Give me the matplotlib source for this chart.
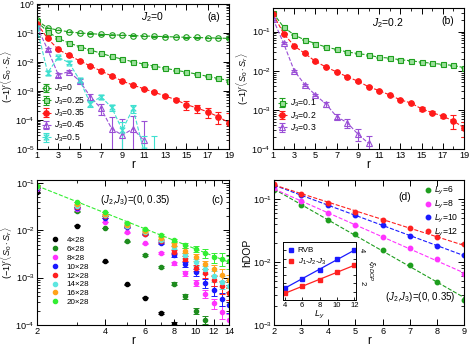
import numpy as np
import matplotlib
matplotlib.use("Agg")
import matplotlib.pyplot as plt
from matplotlib.path import Path
from matplotlib.ticker import FixedLocator, NullFormatter, LogLocator, FuncFormatter, FixedFormatter

plt.rcParams['font.family'] = ['Liberation Sans', 'DejaVu Sans']
plt.rcParams['mathtext.fontset'] = 'custom'
plt.rcParams['mathtext.rm'] = 'Liberation Sans'
plt.rcParams['mathtext.it'] = 'Liberation Sans:italic'

# ---------------- Panel (a): J2 = 0 ----------------
r_a = list(range(1, 20))
a_J3_0 = [0.27, 0.15, 0.125, 0.11, 0.10, 0.095, 0.09, 0.087, 0.084, 0.081, 0.079,
          0.077, 0.075, 0.073, 0.071, 0.07, 0.068, 0.067, 0.065]
a_J3_025 = [0.25, 0.11, 0.065, 0.045, 0.034, 0.026, 0.02, 0.0155, 0.0125, 0.0102,
            0.0085, 0.0072, 0.0061, 0.0052, 0.0045, 0.0038, 0.0032, 0.0027, 0.0023]
a_J3_035 = [0.21, 0.065, 0.027, 0.017, 0.011, 0.0073, 0.0049, 0.0033, 0.0022, 0.0016,
            0.0012, 0.0009, 0.00068, 0.0005, 0.00034, 0.00026, 0.00019, 0.00013, 0.00008]
a_J3_035_err = [0.01, 0.003, 0.001, 0.0006, 0.0004, 0.0003, 0.0002, 0.00015, 0.0001, 0.00008,
                0.00007, 0.00006, 0.00006, 0.00006, 0.00012, 0.00008, 0.00007, 0.00006, 0.00009]
r_a45 = list(range(1, 12))
a_J3_045 = [0.165, 0.027, 0.0036, 0.0047, 0.0022, 0.00064, 0.00025, 0.00005, 0.00003, 0.00005, 0.00002]
a_J3_045_err = [0.01, 0.003, 0.0005, 0.0006, 0.0003, 0.00015, 0.0001, 0.00008, 0.00008, 0.00009, 0.00007]
r_a5 = list(range(1, 13))
a_J3_05 = [0.145, 0.0043, 0.0145, 0.0095, 0.0024, 0.00037, 0.00064, 0.00027, 0.000045,
           0.00025, 0.000009, 0.000008]
a_J3_05_err = [0.008, 0.0006, 0.002, 0.0012, 0.0004, 0.00008, 0.0001, 0.00007, 0.00004,
               0.00007, 0.00002, 0.00002]

# ---------------- Panel (b): J2 = 0.2 ----------------
r_b = list(range(1, 20))
b_J3_01 = [0.30, 0.13, 0.082, 0.061, 0.0495, 0.040, 0.035, 0.030, 0.0276, 0.025, 0.022,
           0.021, 0.019, 0.018, 0.0165, 0.0155, 0.0145, 0.0136, 0.012]
b_J3_02 = [0.28, 0.089, 0.043, 0.0276, 0.0173, 0.0124, 0.0093, 0.007, 0.0054, 0.0039,
           0.0031, 0.0024, 0.0018, 0.0015, 0.00106, 0.00085, 0.00069, 0.00052, 0.00035]
b_J3_02_err = [0.01, 0.003, 0.001, 0.0008, 0.0005, 0.0003, 0.0002, 0.00015, 0.0001, 0.00008,
               0.00006, 0.00005, 0.00004, 0.00004, 0.0001, 0.00008, 0.00007, 0.0002, 0.00015]
r_b3 = list(range(1, 11))
b_J3_03 = [0.21, 0.05, 0.01, 0.0044, 0.0024, 0.0014, 0.00067, 0.00047, 0.00024, 0.00014]
b_J3_03_err = [0.008, 0.003, 0.0006, 0.0003, 0.0002, 0.0002, 0.0001, 0.00013, 0.00008, 0.00007]

# ---------------- Panel (c): (J2,J3)=(0,0.35), cylinders ----------------
r_c = list(range(2, 15))
c_labels = ['4×28', '6×28', '8×28', '10×28', '12×28', '14×28', '16×28', '20×28']
c_4 = [0.063, 0.0125, 0.0022, 0.00072, 0.00038, 0.00018, 0.000105]
c_6 = [0.083, 0.025, 0.011, 0.0059, 0.0030, 0.0017, 0.00075, 0.00041, 0.0002, 0.00013]
c_8 = [0.076, 0.028, 0.015, 0.009, 0.0053, 0.0033, 0.002, 0.00125, 0.00077, 0.00046,
       0.00029, 0.00019, 0.00013]
c_10 = [0.078, 0.030, 0.018, 0.0115, 0.0082, 0.0053, 0.003, 0.0019, 0.0013, 0.00077,
        0.00054, 0.00036, 0.00026]
c_12 = [0.080, 0.031, 0.020, 0.0122, 0.0085, 0.0058, 0.0035, 0.0025, 0.0016, 0.00125,
        0.00088, 0.00066, 0.00048]
c_14 = [0.083, 0.033, 0.021, 0.0125, 0.0092, 0.0063, 0.0044, 0.0030, 0.0021, 0.0015,
        0.0011, 0.00082, 0.00068]
c_16 = [0.085, 0.035, 0.022, 0.013, 0.0095, 0.0068, 0.0050, 0.0037, 0.0027, 0.0019,
        0.0015, 0.00115, 0.00088]
c_20 = [0.088, 0.039, 0.0245, 0.0145, 0.0105, 0.0078, 0.0062, 0.0048, 0.0041, 0.0033,
        0.0027, 0.0025, 0.0022]
c_rel_err = [0.01, 0.01, 0.01, 0.02, 0.03, 0.05, 0.08, 0.12, 0.15, 0.2, 0.25, 0.3, 0.3]

# ---------------- Panel (d): hDOP ----------------
r_d = list(range(2, 10))
d_labels = ['$L_y$=6', '$L_y$=8', '$L_y$=10', '$L_y$=12']
d_6 = [0.138, 0.079, 0.047, 0.0275, 0.0155, 0.0089, 0.0049, 0.0025]
d_8 = [0.147, 0.092, 0.059, 0.038, 0.025, 0.0165, 0.011, 0.0064]
d_10 = [0.167, 0.115, 0.079, 0.055, 0.038, 0.026, 0.018, 0.0129]
d_12 = [0.173, 0.122, 0.087, 0.063, 0.047, 0.034, 0.025, 0.019]
# inset: correlation length vs Ly
Ly = [4, 6, 8, 10, 12]
xi_RVB = [1.72, 2.28, 2.83, 3.45, 4.0]
xi_J = [1.41, 1.82, 2.22, 2.69, 3.09]

GREEN = '#1fa01f'
RED = '#ff1a1a'
PURPLE = '#9a4fd6'
CYAN = '#3fe0d0'

hour = Path([(-1, 1), (1, 1), (-1, -1), (1, -1), (-1, 1)],
            [Path.MOVETO, Path.LINETO, Path.LINETO, Path.LINETO, Path.CLOSEPOLY])

W, H = 471, 347
fig = plt.figure(figsize=(W / 100, H / 100), dpi=100)

def box(l, t, r, b):
    return [l / W, 1 - b / H, (r - l) / W, (b - t) / H]

ax_a = fig.add_axes(box(37, 4, 229, 149))
ax_b = fig.add_axes(box(273, 8, 464, 149))
ax_c = fig.add_axes(box(37, 180, 229, 325))
ax_d = fig.add_axes(box(274, 180, 464, 325))
ax_in = fig.add_axes(box(283, 242, 356, 300))

FS = 6.6
ylab = r'$(-1)^r\langle S_0\cdot S_r\rangle$'

def logfmt(v, pos):
    e = int(round(np.log10(v)))
    return r'$10^{%d}$' % e

def style(ax, logy=True):
    ax.tick_params(which='both', direction='in', top=True, right=True, labelsize=FS, pad=1.5)
    ax.tick_params(which='major', length=4, width=0.7)
    ax.tick_params(which='minor', length=2, width=0.6)
    if logy:
        ax.yaxis.set_major_formatter(FuncFormatter(logfmt))
        ax.yaxis.set_minor_locator(LogLocator(base=10, subs=np.arange(2, 10), numticks=10))
        ax.yaxis.set_minor_formatter(NullFormatter())
    for s in ax.spines.values():
        s.set_linewidth(0.8)

def labels(ax, yl, px_right, fs=6.6):
    # px_right: distance in pixels from the axes' left edge to the right edge of the y label
    ax.set_xlabel('r', fontsize=8.5, labelpad=-1)
    ax.set_ylabel(yl, fontsize=fs)
    w = ax.get_position().width * W
    ax.yaxis.set_label_coords(-(px_right) / w, 0.5)

def eb(ax, x, y, err, color, marker, mfc, label, ms=4, ls='--'):
    y = np.asarray(y, float)
    e = np.asarray(err, float)
    lo = np.minimum(e, y * 0.999)
    return ax.errorbar(x, y, yerr=[lo, e], color=color, marker=marker, mfc=mfc, mec=color,
                       ms=ms, ls=ls, lw=0.8, elinewidth=0.8, capsize=2.5, capthick=0.8,
                       mew=0.8, label=label)

# ---- (a)
eb(ax_a, r_a, a_J3_0, [v * 0.02 for v in a_J3_0], GREEN, 'o', 'none', r'$J_3$=0')
eb(ax_a, r_a, a_J3_025, [v * 0.04 for v in a_J3_025], GREEN, 's', '#9be09b', r'$J_3$=0.25', ms=3.6)
eb(ax_a, r_a, a_J3_035, a_J3_035_err, RED, 'o', RED, r'$J_3$=0.35')
eb(ax_a, r_a45, a_J3_045, a_J3_045_err, PURPLE, '^', 'none', r'$J_3$=0.45')
eb(ax_a, r_a5, a_J3_05, a_J3_05_err, CYAN, hour, 'none', r'$J_3$=0.5', ms=3.6)
ax_a.set_yscale('log')
ax_a.set_xlim(1, 19)
ax_a.set_ylim(1e-5, 1)
ax_a.set_xticks(range(1, 20, 2))
ax_a.set_xticks(range(2, 19, 2), minor=True)
ax_a.yaxis.set_major_locator(LogLocator(base=10, numticks=10))
style(ax_a)
labels(ax_a, ylab, 22)
ax_a.text(0.60, 0.91, r'$J_2$=0', transform=ax_a.transAxes, fontsize=7.5, ha='center', va='center')
ax_a.text(0.92, 0.91, '(a)', transform=ax_a.transAxes, fontsize=7.5, ha='center', va='center')
ax_a.legend(loc='lower left', fontsize=6.2, frameon=False, handlelength=1.0, handletextpad=0.4,
            labelspacing=0.1, borderaxespad=0.2, bbox_to_anchor=(0.0, 0.0))

# ---- (b)
eb(ax_b, r_b, b_J3_01, [v * 0.03 for v in b_J3_01], GREEN, 's', '#9be09b', r'$J_3$=0.1', ms=3.6)
eb(ax_b, r_b, b_J3_02, b_J3_02_err, RED, 'o', RED, r'$J_3$=0.2')
eb(ax_b, r_b3, b_J3_03, b_J3_03_err, PURPLE, '^', 'none', r'$J_3$=0.3')
ax_b.set_yscale('log')
ax_b.set_xlim(1, 19)
ax_b.set_ylim(1e-4, 0.4)
ax_b.set_xticks(range(1, 20, 2))
ax_b.set_xticks(range(2, 19, 2), minor=True)
style(ax_b)
labels(ax_b, ylab, 22)
ax_b.text(0.60, 0.89, r'$J_2$=0.2', transform=ax_b.transAxes, fontsize=7.5, ha='center', va='center')
ax_b.text(0.915, 0.91, '(b)', transform=ax_b.transAxes, fontsize=7.5, ha='center', va='center')
ax_b.legend(loc='lower left', fontsize=6.2, frameon=False, handlelength=1.0, handletextpad=0.4,
            labelspacing=0.1, borderaxespad=0.2, bbox_to_anchor=(0.0, 0.07))

# ---- (c)
c_series = [c_4, c_6, c_8, c_10, c_12, c_14, c_16, c_20]
c_colors = ['black', '#1e8c1e', '#ff33ff', '#1a1aff', '#ff2020', '#5ee6e0', '#ffa31a', '#33ee33']
for vals, col, lab in zip(c_series, c_colors, c_labels):
    x = r_c[:len(vals)]
    v = np.asarray(vals)
    e = v * np.asarray(c_rel_err[:len(vals)])
    ax_c.errorbar(x, v, yerr=e, color=col, marker='o', ms=3, ls='none', elinewidth=0.7,
                  capsize=2, capthick=0.7, label=lab)
p = np.polyfit(np.log(r_c), np.log(c_20), 1)
xf = np.array([r_c[0], r_c[-1]], float)
ax_c.plot(xf, np.exp(np.polyval(p, np.log(xf))), '--', color='#33ee33', lw=0.8)
ax_c.set_xscale('log')
ax_c.set_yscale('log')
ax_c.set_xlim(2, 14)
ax_c.set_ylim(1e-4, 0.115)
ax_c.xaxis.set_major_locator(FixedLocator([2, 4, 6, 8, 10, 12, 14]))
ax_c.xaxis.set_minor_locator(FixedLocator([3, 5, 7, 9, 11, 13]))
ax_c.xaxis.set_major_formatter(FixedFormatter(['2', '4', '6', '8', '10', '12', '14']))
ax_c.xaxis.set_minor_formatter(NullFormatter())
style(ax_c)
labels(ax_c, ylab, 22)
ax_c.text(0.51, 0.86, r'$(J_2$,$J_3)$=(0, 0.35)', transform=ax_c.transAxes, fontsize=7,
          ha='center', va='center')
ax_c.text(0.94, 0.86, '(c)', transform=ax_c.transAxes, fontsize=7.5, ha='center', va='center')
hl, ll = ax_c.get_legend_handles_labels()
ax_c.legend([h[0] for h in hl], ll, loc='lower left', fontsize=5.8, frameon=False,
            handlelength=1.8, handletextpad=0.5, labelspacing=0.15,
            bbox_to_anchor=(0.02, 0.08))

# ---- (d)
d_series = [d_6, d_8, d_10, d_12]
d_colors = ['#1e9e1e', '#ff33ff', '#1a1aff', '#ff2020']
xd = np.array([r_d[0], r_d[-1]], float)
for vals, col, lab in zip(d_series, d_colors, d_labels):
    ax_d.plot(r_d, vals, 'o', color=col, ms=3.2, label=lab)
    pf = np.polyfit(r_d, np.log(vals), 1)
    ax_d.plot(xd, np.exp(np.polyval(pf, xd)), '--', color=col, lw=0.8)
ax_d.set_yscale('log')
ax_d.set_xlim(2, 9)
ax_d.set_ylim(1e-3, 0.2)
ax_d.set_xticks(r_d)
style(ax_d)
labels(ax_d, 'hDOP', 22, fs=7.5)
ax_d.text(0.69, 0.88, '(d)', transform=ax_d.transAxes, fontsize=7.5, ha='center', va='center')
ax_d.text(0.77, 0.19, r'$(J_2$,$J_3)$=(0, 0.35)', transform=ax_d.transAxes, fontsize=7,
          ha='center', va='center')
ax_d.legend(loc='upper right', fontsize=6.2, frameon=False, handlelength=0.8, handletextpad=0.4,
            labelspacing=0.2, borderaxespad=0.2)

# ---- inset
ax_in.plot(Ly, xi_RVB, 's', color='#1a1aff', ms=3.2, label='RVB')
ax_in.plot(Ly, xi_J, 's', color='#ff2020', ms=3.2, label=r'$J_1$-$J_2$-$J_3$')
lx = np.array([Ly[0], Ly[-1]], float)
ax_in.plot(lx, np.polyval(np.polyfit(Ly, xi_RVB, 1), lx), '-', color='#1a1aff', lw=0.9)
ax_in.plot(lx, np.polyval(np.polyfit(Ly, xi_J, 1), lx), '-', color='#ff2020', lw=0.9)
ax_in.set_xlim(3.8, 12.2)
ax_in.set_ylim(1, 4.5)
ax_in.set_xticks([4, 6, 8, 10, 12])
ax_in.set_yticks([1, 1.5, 2, 2.5, 3, 3.5, 4])
ax_in.tick_params(direction='in', left=True, right=True, labelleft=False, labelright=True,
                  labelsize=5.5, length=2.5, width=0.6, pad=1.5)
ax_in.yaxis.set_major_formatter(FuncFormatter(lambda v, pos: ('%d' % v) if v in (2, 4) else ''))
for lab in ax_in.get_yticklabels():
    lab.set_rotation(-90)
for s in ax_in.spines.values():
    s.set_linewidth(0.7)
ax_in.set_xlabel(r'$L_y$', fontsize=6.5, labelpad=0)
ax_in.yaxis.set_label_position('right')
ax_in.set_ylabel(r'$\xi_{hDOP}$', fontsize=6, rotation=-90, labelpad=8)
ax_in.legend(loc='upper left', fontsize=5.8, frameon=False, handlelength=0.8, handletextpad=0.4,
             labelspacing=0.3, borderaxespad=0.2)

fig.savefig('out.png', dpi=100)
